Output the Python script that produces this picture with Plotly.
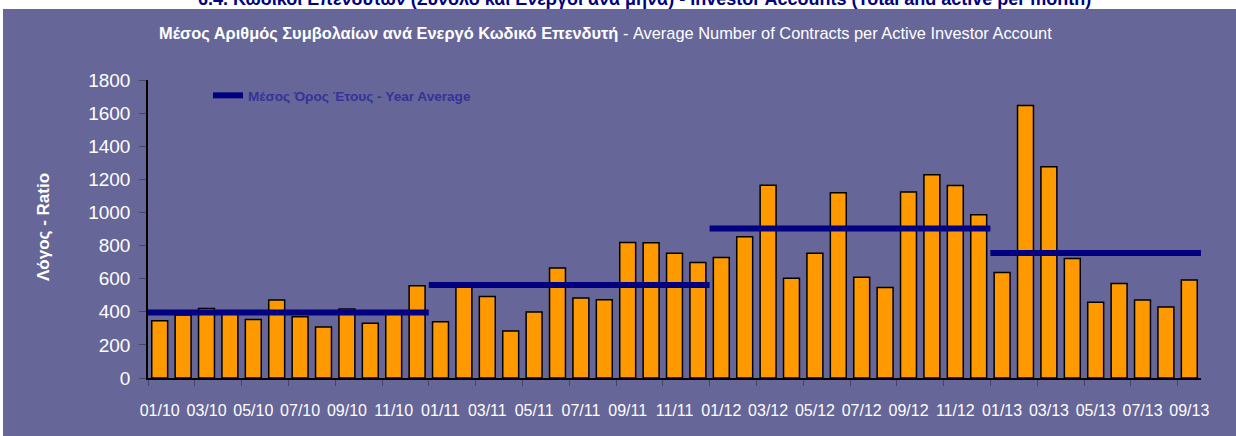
import plotly.graph_objects as go

months = ["01/10","02/10","03/10","04/10","05/10","06/10","07/10","08/10","09/10","10/10","11/10","12/10",
          "01/11","02/11","03/11","04/11","05/11","06/11","07/11","08/11","09/11","10/11","11/11","12/11",
          "01/12","02/12","03/12","04/12","05/12","06/12","07/12","08/12","09/12","10/12","11/12","12/12",
          "01/13","02/13","03/13","04/13","05/13","06/13","07/13","08/13","09/13"]

ratio = [346, 380, 420, 385, 354, 471, 370, 308, 417, 330, 390, 557,
         340, 550, 493, 284, 398, 664, 483, 473, 819, 817, 753, 698,
         728, 853, 1165, 602, 753, 1119, 608, 547, 1123, 1228, 1163, 986,
         638, 1646, 1276, 722, 457, 571, 471, 429, 592]

years = ["2010", "2011", "2012", "2013"]
months_per_year = [12, 12, 12, 9]
year_average = [395, 561, 903, 755]

y_ticks = [0, 200, 400, 600, 800, 1000, 1200, 1400, 1600, 1800]

idx = list(range(len(months)))

# average segments spanning each year's categories
avg_x, avg_y = [], []
start = 0
for n, v in zip(months_per_year, year_average):
    avg_x += [start - 0.5, start + n - 0.5, None]
    avg_y += [v, v, None]
    start += n

PURPLE = "#666699"
NAVY = "#000080"

fig = go.Figure()
fig.add_trace(go.Bar(
    x=idx, y=ratio, name="Ratio", showlegend=False,
    marker=dict(color="#FF9900", line=dict(color="black", width=1.5)),
))
fig.add_trace(go.Scatter(
    x=avg_x, y=avg_y, mode="lines", name="<b>Μέσος Όρος Έτους - Year Average</b>",
    line=dict(color=NAVY, width=6), connectgaps=False,
))

L, R, T, B = 148, 35, 80, 58
W, H = 1236, 436
pw, ph = W - L - R, H - T - B

def px(x):
    return (x - L) / pw

def py(y):
    return (H - B - y) / ph

fig.add_shape(type="rect", xref="paper", yref="paper", layer="below",
              x0=px(3), x1=px(W + 5), y0=py(H + 10), y1=py(9),
              fillcolor=PURPLE, line=dict(width=0))

fig.add_annotation(xref="paper", yref="paper", x=px(644), y=py(11), xanchor="center", yanchor="bottom",
                   text="<b>6.4. Κωδικοί Επενδυτών (Σύνολο και Ενεργοί ανά μήνα) - Investor Accounts (Total and active per month)</b>",
                   showarrow=False, font=dict(family="Liberation Sans, Arial", size=18, color=NAVY))

fig.add_annotation(xref="paper", yref="paper", x=px(605), y=py(33), xanchor="center", yanchor="middle",
                   text="<b>Μέσος Αριθμός Συμβολαίων ανά Ενεργό Κωδικό Επενδυτή</b> - Average Number of Contracts per Active Investor Account",
                   showarrow=False, font=dict(family="Liberation Sans Narrow, Arial Narrow, Arial", size=16.4, color="white"))

fig.add_annotation(xref="paper", yref="paper", x=px(43), y=py(227), xanchor="center", yanchor="middle",
                   text="<b>Λόγος - Ratio</b>", textangle=-90,
                   showarrow=False, font=dict(family="Liberation Sans, Arial", size=17, color="white"))

fig.update_layout(
    width=W, height=H, autosize=False,
    margin=dict(l=L, r=R, t=T, b=B, pad=0),
    paper_bgcolor="white", plot_bgcolor="white",
    bargap=0.32,
    showlegend=True,
    legend=dict(x=px(208), y=py(80), xanchor="left", yanchor="top",
                bgcolor="rgba(0,0,0,0)", itemwidth=30,
                font=dict(family="Liberation Sans, Arial", size=13.6, color="#333399")),
    xaxis=dict(
        range=[-0.5, len(months) - 0.5],
        tickmode="array", tickvals=idx[::2], ticktext=months[::2],
        ticks="", showgrid=False, zeroline=False,
        showline=True, linecolor="black", linewidth=1.5,
        tickfont=dict(family="Liberation Sans Narrow, Arial Narrow, Arial", size=16, color="white"),
        ticklabelstandoff=17,
        minor=dict(tickmode="array", tickvals=[i - 0.5 for i in idx[::2]],
                   ticks="outside", ticklen=6, tickcolor="#444466", tickwidth=1),
    ),
    yaxis=dict(
        range=[0, 1800], tickmode="array", tickvals=y_ticks,
        ticks="outside", ticklen=7, tickcolor="#444466",
        showgrid=False, zeroline=False,
        showline=True, linecolor="black", linewidth=1.5,
        tickfont=dict(family="Liberation Sans, Arial", size=19, color="white"),
        ticklabelstandoff=5,
    ),
)

fig.write_html("out.html", config={"displayModeBar": False},
               post_script="document.body.style.margin='0';document.documentElement.style.overflow='hidden';")
